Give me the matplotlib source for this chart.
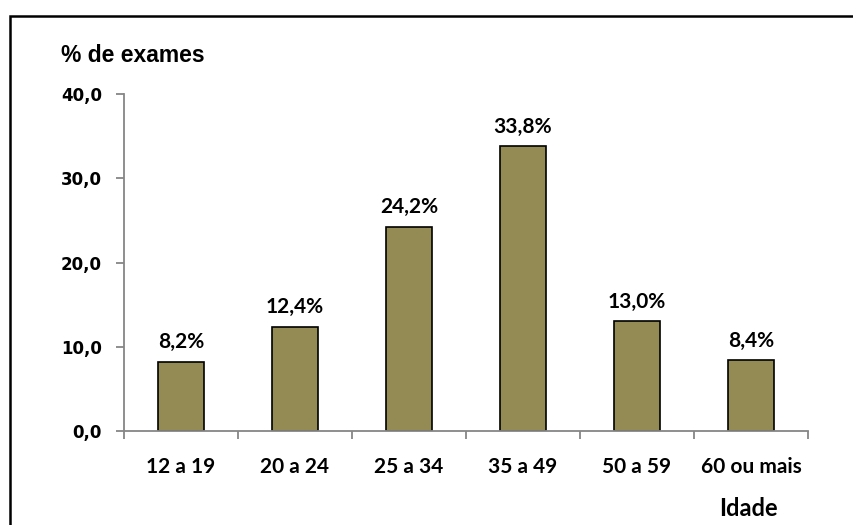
import matplotlib.pyplot as plt
from matplotlib.patches import Rectangle

# Distribution of exams by age group
faixas = ['12 a 19', '20 a 24', '25 a 34', '35 a 49', '50 a 59', '60 ou mais']
percentuais = [8.2, 12.4, 24.2, 33.8, 13.0, 8.4]
y_ticks = [0, 10, 20, 30, 40]

bar_color = '#948A54'
axis_color = '#868686'

fig = plt.figure(figsize=(8.54, 5.25), dpi=100)
ax = fig.add_axes([124 / 854, 1 - 431 / 525, (808 - 124) / 854, (431 - 94) / 525])

x = range(len(faixas))
bars = ax.bar(x, percentuais, width=0.41, color=bar_color, edgecolor='black', linewidth=1.2)

for xi, v in zip(x, percentuais):
    ax.annotate(f'{v:.1f}%'.replace('.', ','), (xi, v), xytext=(0, 7),
                textcoords='offset points', ha='center', va='bottom',
                fontsize=15, fontweight='bold', family='Lato')

ax.set_xlim(-0.5, len(faixas) - 0.5)
ax.set_ylim(0, 40)
ax.set_yticks(y_ticks)
ax.set_yticklabels([f'{t:.1f}'.replace('.', ',') for t in y_ticks],
                   fontsize=12, fontweight='bold', family='DejaVu Sans')

# category ticks sit between bars
ax.set_xticks([i - 0.5 for i in range(len(faixas) + 1)])
ax.set_xticklabels([])
ax.set_xticks(list(x), minor=True)
ax.set_xticklabels(faixas, minor=True, fontsize=15, fontweight='bold', family='Lato')
ax.tick_params(axis='x', which='minor', length=0, pad=19)
ax.tick_params(axis='x', which='major', length=6, width=1.3, color=axis_color)
ax.tick_params(axis='y', length=6, width=1.3, color=axis_color, pad=10)

for side in ['top', 'right']:
    ax.spines[side].set_visible(False)
for side in ['left', 'bottom']:
    ax.spines[side].set_color(axis_color)
    ax.spines[side].set_linewidth(1.3)

fig.text(61 / 854, 1 - 55 / 525, '% de exames', fontsize=16.5, fontweight='bold',
         family='Liberation Sans', ha='left', va='center')
fig.text(748 / 854, 1 - 509 / 525, 'Idade', fontsize=17, fontweight='bold',
         family='Lato', ha='center', va='center')

# outer frame
fig.patches.append(Rectangle((10.5 / 854, -0.1), 1.2, 1 - 15.5 / 525 + 0.1,
                             transform=fig.transFigure, fill=False,
                             edgecolor='black', linewidth=1.8))

fig.savefig('out.png', dpi=100)
